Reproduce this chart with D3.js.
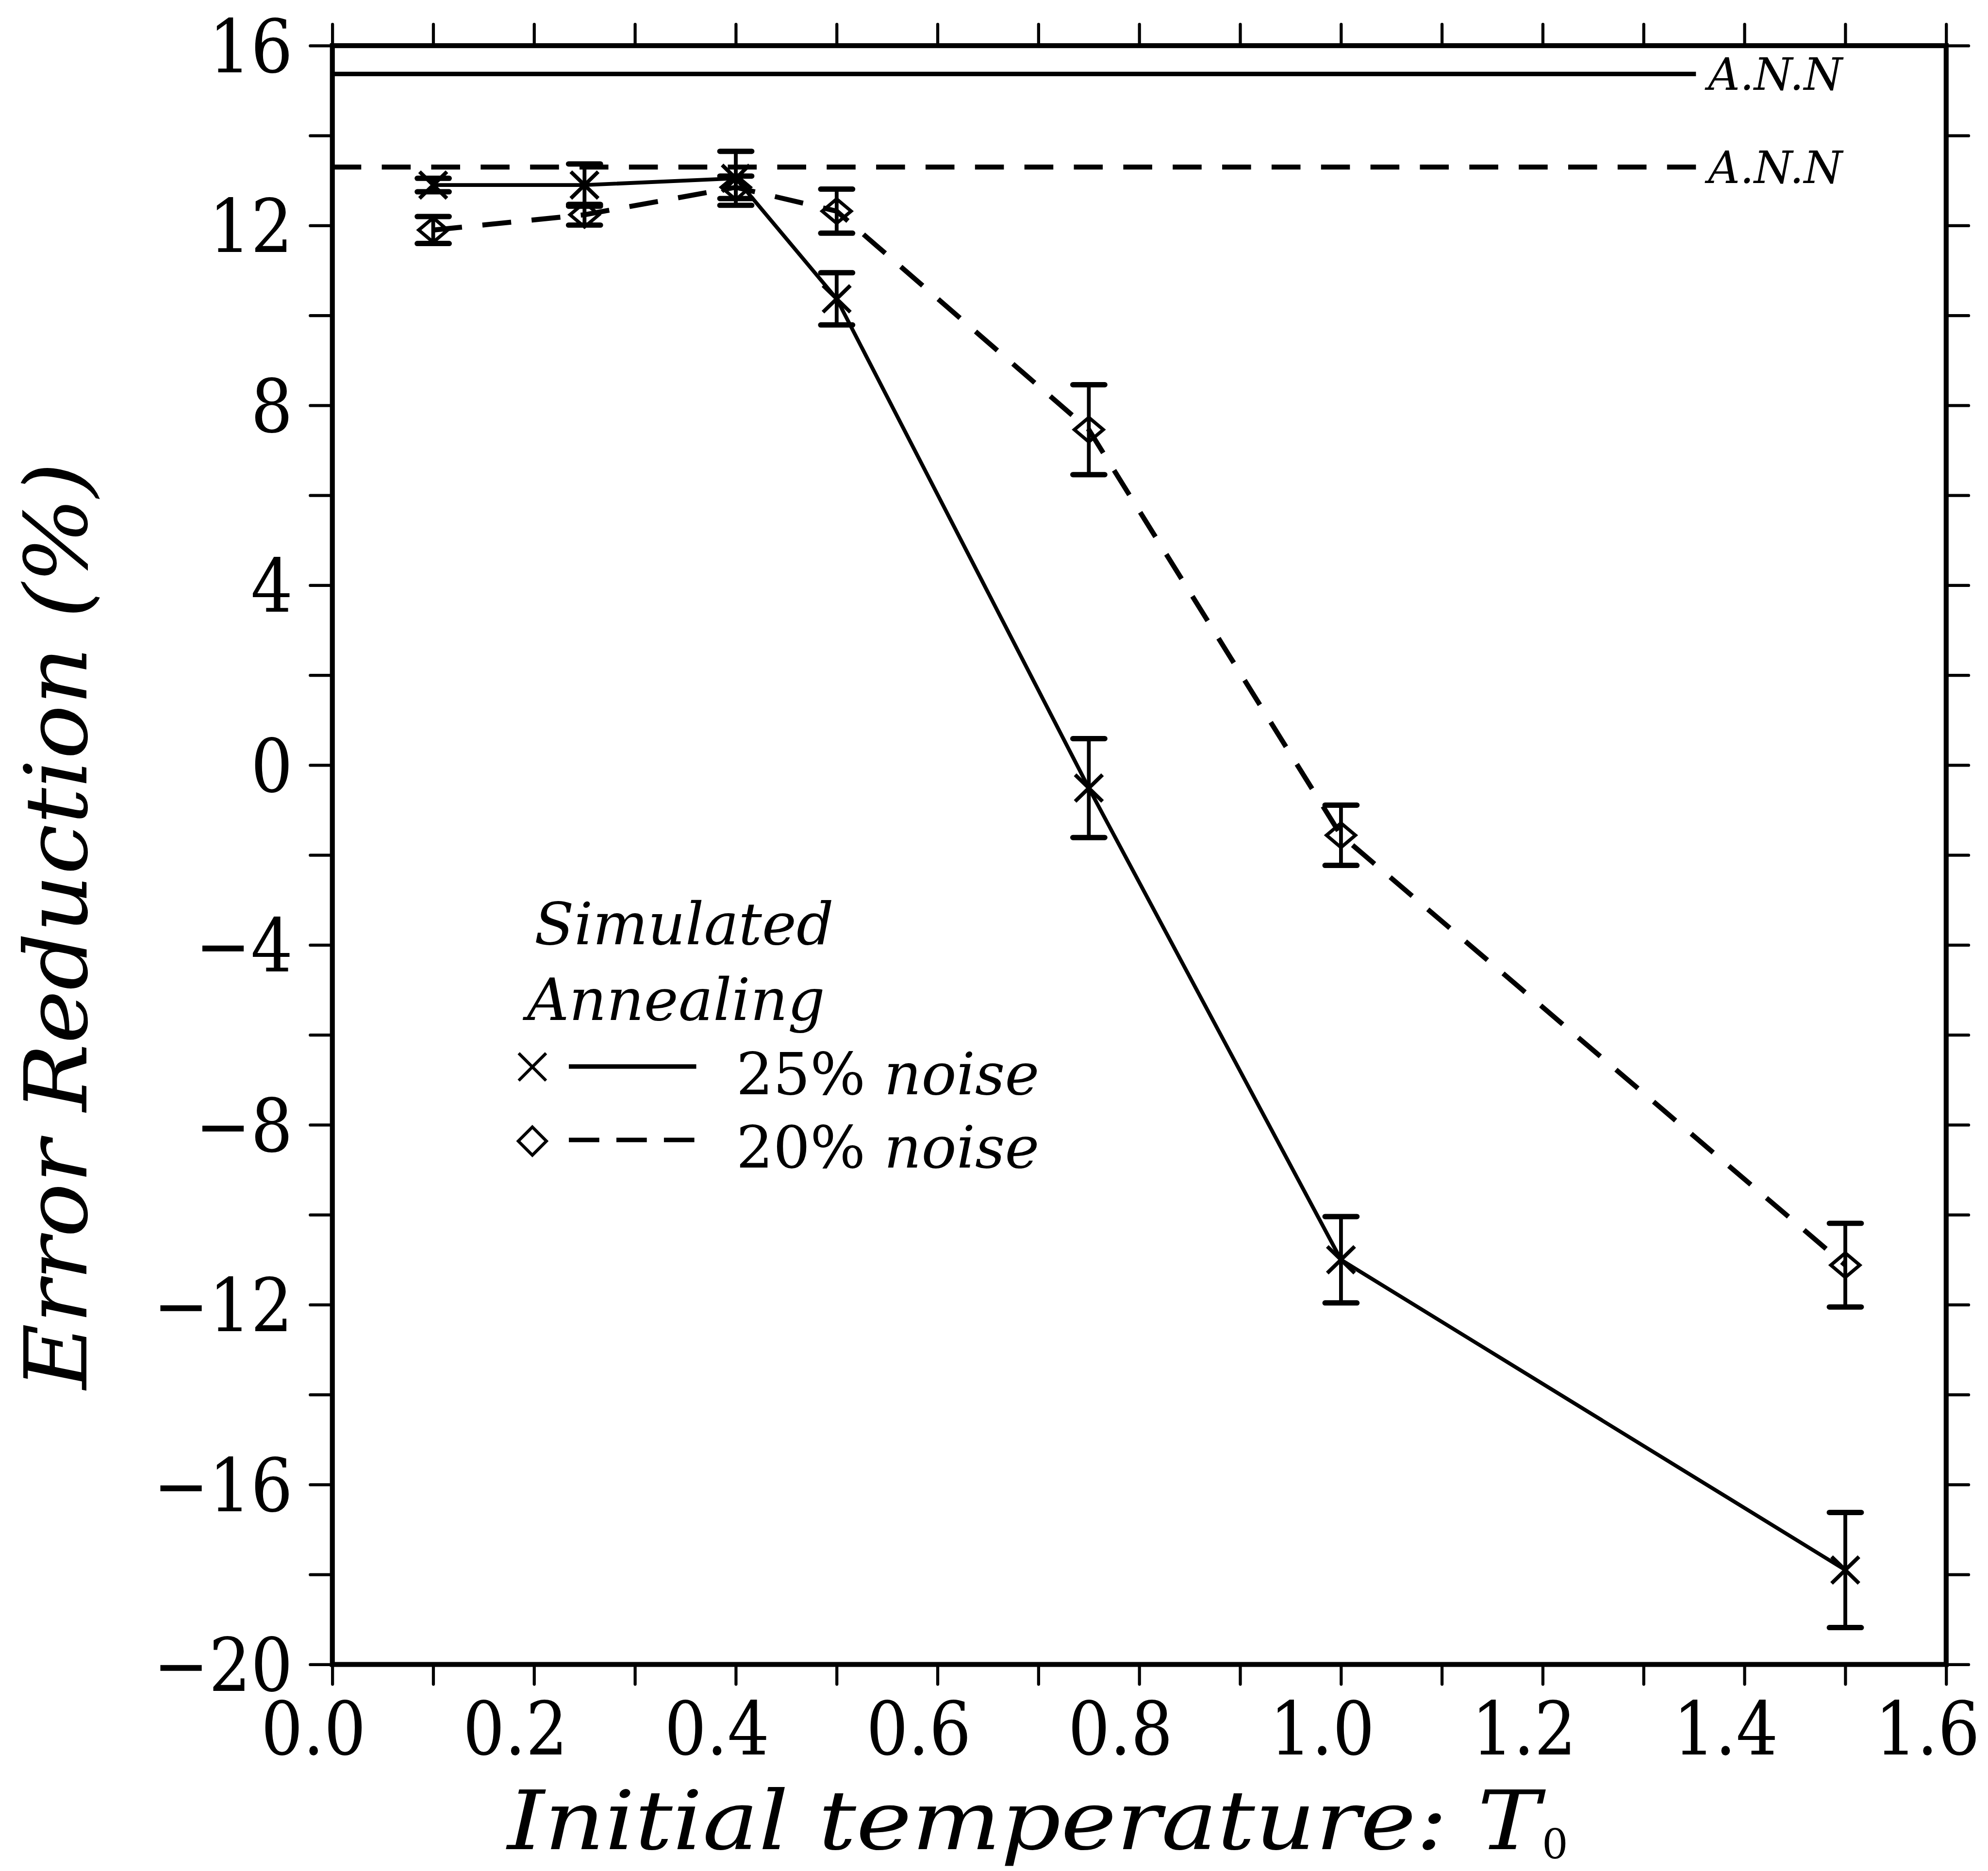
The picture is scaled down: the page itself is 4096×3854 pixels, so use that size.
<!DOCTYPE html>
<html>
<head>
<meta charset="utf-8">
<script src="https://cdn.jsdelivr.net/npm/d3@7"></script>
<style>
  html, body { margin: 0; padding: 0; background: #fff; }
  svg { display: block; }
</style>
</head>
<body>
<svg id="chart" width="4096" height="3854" viewBox="0 0 5228 4919"></svg>
<script>
// Initial temperatures T0 used in both simulated-annealing runs
const temperatures = [0.1, 0.25, 0.4, 0.5, 0.75, 1.0, 1.5];

// 25% noise: mean error reduction (%) and error-bar half widths
const noise25Mean = [12.9, 12.9, 13.05, 10.37, -0.51, -11.0, -17.9];
const noise25Err  = [0.15, 0.47, 0.6, 0.58, 1.1, 0.96, 1.28];

// 20% noise: mean error reduction (%) and error-bar half widths
const noise20Mean = [11.9, 12.24, 12.85, 12.32, 7.46, -1.56, -11.12];
const noise20Err  = [0.3, 0.23, 0.25, 0.49, 1.0, 0.67, 0.93];

// Neural-network (ANN) reference levels for the two noise settings
const annLevel25 = 15.37;
const annLevel20 = 13.3;

// Axis ticks and labels
const xTicks = [0, 0.1, 0.2, 0.3, 0.4, 0.5, 0.6, 0.7, 0.8, 0.9, 1.0, 1.1, 1.2, 1.3, 1.4, 1.5, 1.6];
const xLabelTicks = [0.0, 0.2, 0.4, 0.6, 0.8, 1.0, 1.2, 1.4, 1.6];
const yTicks = [16, 14, 12, 10, 8, 6, 4, 2, 0, -2, -4, -6, -8, -10, -12, -14, -16, -18, -20];
const yLabelTicks = [16, 12, 8, 4, 0, -4, -8, -12, -16, -20];

const serif = "'DejaVu Serif', 'Liberation Serif', serif";
const svg = d3.select("#chart");

const x = d3.scaleLinear().domain([0, 1.6]).range([874, 5118]);
const y = d3.scaleLinear().domain([-20, 16]).range([4376, 120]);

const fmtY = d => yLabelTicks.includes(d) ? (d < 0 ? "\u2212" + Math.abs(d) : String(d)) : "";
const fmtX = d => xLabelTicks.some(v => Math.abs(v - d) < 1e-9) ? d3.format(".1f")(d) : "";

// ---- axes (ticks point outward on all four sides) ----
function styleAxis(g) {
  g.select(".domain").remove();
  g.selectAll(".tick line").attr("stroke", "#000").attr("stroke-width", 8).attr("stroke-linecap", "round");
  g.selectAll(".tick text")
    .attr("fill", "#000")
    .style("font-family", serif)
    .style("font-size", "193px")
    .style("font-stretch", "condensed");
  g.selectAll(".tick text").filter(function () { return this.textContent === ""; }).remove();
  g.attr("font-family", null).attr("font-size", null);
}

svg.append("g")
  .attr("transform", `translate(${x(0)},0)`)
  .call(d3.axisLeft(y).tickValues(yTicks).tickSize(58).tickPadding(46).tickFormat(fmtY))
  .call(styleAxis)
  .call(g => g.selectAll(".tick text").attr("dy", "0.36em"));

svg.append("g")
  .attr("transform", `translate(${x(1.6)},0)`)
  .call(d3.axisRight(y).tickValues(yTicks).tickSize(59).tickFormat(() => ""))
  .call(styleAxis);

svg.append("g")
  .attr("transform", `translate(0,${y(16)})`)
  .call(d3.axisTop(x).tickValues(xTicks).tickSize(56).tickFormat(() => ""))
  .call(styleAxis);

svg.append("g")
  .attr("transform", `translate(0,${y(-20)})`)
  .call(d3.axisBottom(x).tickValues(xTicks).tickSize(52).tickFormat(fmtX))
  .call(styleAxis)
  .call(g => g.selectAll(".tick text").attr("y", 237).attr("dy", 0).attr("dx", -50));

// plot frame
svg.append("rect")
  .attr("x", x(0)).attr("y", y(16))
  .attr("width", x(1.6) - x(0)).attr("height", y(-20) - y(16))
  .attr("fill", "none").attr("stroke", "#000").attr("stroke-width", 13);

// ---- ANN reference lines with labels ----
const annEnd = 4460, annLabelX = 4492;
[[annLevel25, null], [annLevel20, "76 54"]].forEach(([lvl, dash]) => {
  svg.append("line")
    .attr("x1", x(0)).attr("x2", annEnd)
    .attr("y1", y(lvl)).attr("y2", y(lvl))
    .attr("stroke", "#000").attr("stroke-width", dash ? 13 : 12)
    .attr("stroke-dasharray", dash);
  svg.append("text")
    .attr("x", annLabelX).attr("y", y(lvl) + 42)
    .style("font-family", serif).style("font-style", "italic")
    .style("font-size", "116px")
    .text("A.N.N");
});

// ---- series ----
const s25 = temperatures.map((t, i) => ({t, v: noise25Mean[i], e: noise25Err[i]}));
const s20 = temperatures.map((t, i) => ({t, v: noise20Mean[i], e: noise20Err[i]}));

const line = d3.line().x(d => x(d.t)).y(d => y(d.v));

svg.append("path").datum(s25).attr("d", line)
  .attr("fill", "none").attr("stroke", "#000").attr("stroke-width", 10)
  .attr("stroke-linejoin", "round");
svg.append("path").datum(s20).attr("d", line)
  .attr("fill", "none").attr("stroke", "#000").attr("stroke-width", 13)
  .attr("stroke-dasharray", "76 54");

function errorBars(data) {
  const g = svg.append("g").attr("stroke", "#000");
  const bars = g.selectAll("g").data(data).join("g");
  bars.append("line")
    .attr("x1", d => x(d.t)).attr("x2", d => x(d.t))
    .attr("y1", d => y(d.v + d.e)).attr("y2", d => y(d.v - d.e))
    .attr("stroke-width", 10);
  bars.selectAll(".cap").data(d => [[d.t, d.v + d.e], [d.t, d.v - d.e]]).join("line")
    .attr("class", "cap")
    .attr("x1", d => x(d[0]) - 42).attr("x2", d => x(d[0]) + 42)
    .attr("y1", d => y(d[1])).attr("y2", d => y(d[1]))
    .attr("stroke-width", 14).attr("stroke-linecap", "round");
}
errorBars(s25);
errorBars(s20);

const crossPath = (w, h) => `M${-w},${-h}L${w},${h}M${-w},${h}L${w},${-h}`;
const diamondPath = (w, h) => `M0,${-h}L${w},0L0,${h}L${-w},0Z`;

svg.append("g").selectAll("path").data(s25).join("path")
  .attr("transform", d => `translate(${x(d.t)},${y(d.v)})`)
  .attr("d", crossPath(36, 35))
  .attr("fill", "none").attr("stroke", "#000").attr("stroke-width", 10);

svg.append("g").selectAll("path").data(s20).join("path")
  .attr("transform", d => `translate(${x(d.t)},${y(d.v)})`)
  .attr("d", diamondPath(38, 32))
  .attr("fill", "none").attr("stroke", "#000").attr("stroke-width", 9);

// ---- legend ----
const legend = svg.append("g").style("font-family", serif).style("font-size", "153px");
legend.append("text").attr("x", 1405).attr("y", 2483).style("font-style", "italic").text("Simulated");
legend.append("text").attr("x", 1386).attr("y", 2681).style("font-style", "italic").text("Annealing");

legend.append("path").attr("transform", "translate(1400,2805)")
  .attr("d", crossPath(36, 36)).attr("fill", "none").attr("stroke", "#000").attr("stroke-width", 8);
legend.append("line").attr("x1", 1496).attr("x2", 1831).attr("y1", 2804).attr("y2", 2804)
  .attr("stroke", "#000").attr("stroke-width", 12);
const t25 = legend.append("text").attr("x", 1936).attr("y", 2877);
t25.append("tspan").text("25% ");
t25.append("tspan").style("font-style", "italic").text("noise");

legend.append("path").attr("transform", "translate(1400,3000)")
  .attr("d", diamondPath(37, 37)).attr("fill", "none").attr("stroke", "#000").attr("stroke-width", 8);
legend.append("line").attr("x1", 1496).attr("x2", 1831).attr("y1", 2997).attr("y2", 2997)
  .attr("stroke", "#000").attr("stroke-width", 12).attr("stroke-dasharray", "80 45");
const t20 = legend.append("text").attr("x", 1936).attr("y", 3069);
t20.append("tspan").text("20% ");
t20.append("tspan").style("font-style", "italic").text("noise");

// ---- axis titles ----
svg.append("text")
  .attr("transform", "translate(227,2434) rotate(-90)")
  .attr("text-anchor", "middle")
  .attr("textLength", 2437).attr("lengthAdjust", "spacingAndGlyphs")
  .style("font-family", serif).style("font-style", "italic").style("font-size", "226px")
  .text("Error Reduction (%)");

svg.append("text")
  .attr("x", 1334).attr("y", 4862)
  .attr("textLength", 2716).attr("lengthAdjust", "spacingAndGlyphs")
  .style("font-family", serif).style("font-style", "italic").style("font-size", "214px")
  .text("Initial temperature: T");
svg.append("text")
  .attr("x", 4055).attr("y", 4886)
  .style("font-family", serif).style("font-size", "108px")
  .text("0");
</script>
</body>
</html>
